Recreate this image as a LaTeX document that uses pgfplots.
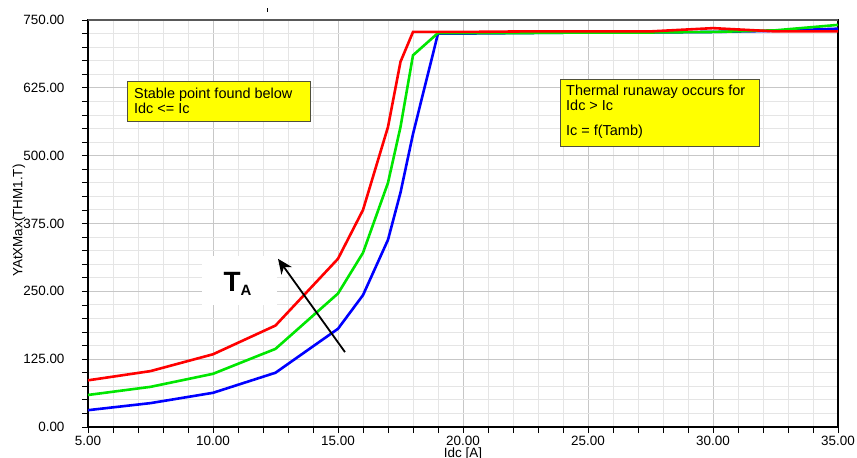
\documentclass[border=0pt]{standalone}
\usepackage{pgfplots}
\pgfplotsset{compat=1.18}
\usepackage{fontspec}
\setmainfont{Liberation Sans}
\usetikzlibrary{arrows.meta}
\definecolor{cred}{RGB}{255,0,0}
\definecolor{cgreen}{RGB}{0,230,0}
\definecolor{cblue}{RGB}{0,0,255}
\definecolor{boxyellow}{RGB}{255,255,0}
\definecolor{boxborder}{RGB}{80,80,60}
\begin{document}
\begin{tikzpicture}
\begin{axis}[
  at={(0,0)}, anchor=south west,
  scale only axis, width=750bp, height=407bp,
  xmin=5, xmax=35, ymin=0, ymax=750,
  xtick={5,10,...,35}, ytick={0,125,...,750},
  minor x tick num=4, minor y tick num=4,
  grid=both,
  major grid style={draw=black!22, line width=0.9bp},
  minor grid style={draw=black!10, line width=0.9bp},
  axis line style={black, line width=1.3bp},
  tick align=outside, tick pos=left,
  major tick length=6bp, minor tick length=6bp,
  tick style={black, line width=0.8bp},
  /pgf/number format/assume math mode=true,
  /pgf/number format/.cd, fixed, fixed zerofill, precision=2, 1000 sep={},
  /pgfplots/.cd,
  ticklabel style={font=\fontsize{13.5}{14}\selectfont},
  yticklabel style={xshift=-14bp},
  xlabel={Idc [A]},
  xlabel style={font=\fontsize{13.5}{14}\selectfont, at={(axis description cs:0.5,0)}, anchor=center, yshift=-27bp},
  ylabel={YAtXMax(THM1.T)},
  ylabel style={font=\fontsize{13.5}{14}\selectfont, at={(axis description cs:-0.092,0.507)}, anchor=center},
  clip=false,
]
% yellow boxes
\draw[fill=boxyellow, draw=boxborder, line width=1bp] (axis cs:6.6,636) rectangle (axis cs:13.88,562.3);
\node[anchor=north west, inner sep=0, align=left, font=\fontsize{14.5}{12.7}\selectfont] at (axis cs:6.84,624.7) {Stable point found below\\Idc <= Ic};
\draw[fill=boxyellow, draw=boxborder, line width=1bp] (axis cs:23.88,639.7) rectangle (axis cs:31.84,516.2);
\node[anchor=north west, inner sep=0, align=left, font=\fontsize{14.5}{12.7}\selectfont] at (axis cs:24.12,630.2) {Thermal runaway occurs for\\Idc > Ic\\[12.7bp]Ic = f(Tamb)};
% TA box
\fill[white] (axis cs:9.56,315.1) rectangle (axis cs:12.56,224.8);
\node[anchor=base, inner sep=0] at (axis cs:10.98,250.3) {{\fontsize{28}{28}\selectfont\bfseries T}{\raisebox{-4bp}{\fontsize{15}{15}\selectfont\bfseries A}}};
% curves
\addplot[cblue, line width=2.6bp] coordinates {
 (5,31) (7.5,44) (10,63) (12.5,100) (15,181) (16,243) (17,345) (17.5,432) (18,540) (19,725)
 (20,725) (22.5,726) (25,727) (27.5,727) (30,728) (32.5,730) (35,734)};
\addplot[cgreen, line width=2.6bp] coordinates {
 (5,59) (7.5,74) (10,98) (12.5,144) (15,246) (16,321) (17,450) (17.5,553) (18,685) (19,726)
 (20,726) (22.5,726) (25,727) (27.5,727) (30,728) (32.5,731) (35,741)};
\addplot[cred, line width=2.6bp] coordinates {
 (5,86) (7.5,103) (10,134) (12.5,187) (15,310) (16,400) (17,553) (17.5,673) (18,728)
 (20,728) (22.5,729) (25,729) (27.5,729) (30,735) (32.5,729) (35,729)};
% arrow
\draw[black, line width=1.8bp, -{Stealth[length=15bp, width=13bp]}] (axis cs:15.28,138) -- (axis cs:12.6,310);
% top border grey
\draw[black!65, line width=1.3bp] (rel axis cs:0,1) -- (rel axis cs:1,1);
\end{axis}
\fill[black] (178.6bp,415bp) rectangle (180bp,419bp);
\pgfresetboundingbox
\path[use as bounding box] (-88bp,-31bp) rectangle (769bp,427bp);
\end{tikzpicture}
\end{document}
